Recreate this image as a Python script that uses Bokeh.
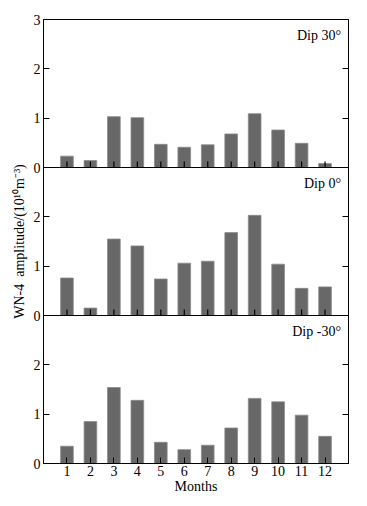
from bokeh.plotting import figure
from bokeh.models import ColumnDataSource, FixedTicker, LinearAxis, Label, Span, Range1d
from bokeh.embed import file_html
from bokeh.resources import INLINE

months = [1, 2, 3, 4, 5, 6, 7, 8, 9, 10, 11, 12]
month_labels = ["1", "2", "3", "4", "5", "6", "7", "8", "9", "10", "11", "12"]
dip_30 = [0.23, 0.14, 1.03, 1.01, 0.47, 0.41, 0.46, 0.68, 1.09, 0.76, 0.49, 0.08]
dip_0 = [0.76, 0.15, 1.55, 1.41, 0.74, 1.06, 1.10, 1.68, 2.03, 1.04, 0.55, 0.58]
dip_m30 = [0.35, 0.85, 1.54, 1.28, 0.43, 0.28, 0.37, 0.72, 1.32, 1.25, 0.98, 0.55]
panel_titles = ["Dip 30°", "Dip 0°", "Dip -30°"]
panel_max = 3

FONT = "Liberation Serif"
BAR = "#686868"

p = figure(width=360, height=498, output_backend="svg", toolbar_location=None,
           x_range=Range1d(0, 13), y_range=Range1d(0, 3 * panel_max),
           min_border_left=43, min_border_right=12, min_border_top=19, min_border_bottom=35)
p.grid.visible = False
p.outline_line_color = "black"
p.outline_line_width = 1
p.background_fill_color = "white"
p.border_fill_color = "white"

panels = [dip_30, dip_0, dip_m30]
for i, vals in enumerate(panels):
    offset = (2 - i) * panel_max
    src = ColumnDataSource(dict(x=months, bottom=[offset] * 12,
                                top=[offset + v for v in vals]))
    p.vbar(x="x", bottom="bottom", top="top", width=0.54, source=src,
           fill_color=BAR, line_color="#8a8a8a", line_width=0.8)
    if i < 2:
        p.segment(x0=months, y0=[offset] * 12, x1=months, y1=[offset + 0.12] * 12,
                  line_color="black", line_width=1.2)
    p.add_layout(Label(x=12.68, y=offset + 2.68, text=panel_titles[i], text_align="right",
                       text_baseline="middle", text_font=FONT, text_font_size="14px",
                       text_color="black"))
    if i > 0:
        p.add_layout(Span(location=offset + panel_max, dimension="width",
                          line_color="black", line_width=1))

yticks = list(range(0, 3 * panel_max + 1))
overrides = {}
for t in yticks:
    r = t % panel_max
    overrides[t] = str(r) if t != 3 * panel_max else str(panel_max)
ax = p.yaxis[0]
ax.ticker = FixedTicker(ticks=yticks)
ax.major_label_overrides = overrides
ax.major_tick_in = 6
ax.major_tick_out = 0
ax.minor_tick_line_color = None
ax.major_label_text_font = FONT
ax.major_label_text_font_size = "14px"
ax.major_label_text_color = "black"
ax.major_label_standoff = 3
ax.axis_label = "WN-4\u00a0\u00a0amplitude/(10¹⁰m⁻³)"
ax.axis_label_text_font = FONT
ax.axis_label_text_font_size = "14px"
ax.axis_label_text_font_style = "normal"
ax.axis_label_text_color = "black"
ax.axis_label_standoff = 4
ax.axis_line_color = "black"

rax = LinearAxis(ticker=FixedTicker(ticks=yticks), major_tick_in=6, major_tick_out=0,
                 minor_tick_line_color=None, major_label_text_color=None,
                 major_label_text_font_size="1px", axis_line_color="black")
p.add_layout(rax, "right")

xa = p.xaxis[0]
xa.ticker = FixedTicker(ticks=months)
xa.major_label_overrides = {m: l for m, l in zip(months, month_labels)}
xa.major_tick_in = 6
xa.major_tick_out = 0
xa.minor_tick_line_color = None
xa.major_label_text_font = FONT
xa.major_label_text_font_size = "14px"
xa.major_label_text_color = "black"
xa.major_label_standoff = 2
xa.axis_label = "Months"
xa.axis_label_text_font = FONT
xa.axis_label_text_font_size = "14px"
xa.axis_label_text_font_style = "normal"
xa.axis_label_text_color = "black"
xa.axis_label_standoff = 0
xa.axis_line_color = "black"

open("out.html", "w").write(file_html(p, INLINE))
